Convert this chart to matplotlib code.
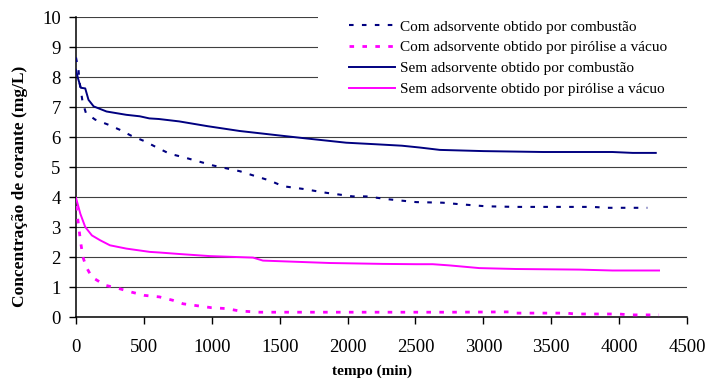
import matplotlib
matplotlib.use("Agg")
import matplotlib.pyplot as plt
from matplotlib.patches import Rectangle

plt.rcParams['font.family'] = ['Liberation Serif', 'DejaVu Serif']
plt.rcParams['lines.scale_dashes'] = False

# Tempo (min) e concentração (mg/L) de cada ensaio
t_com_comb = [0, 19, 27, 49, 73, 141, 238, 323, 408, 505, 600, 690, 789, 1010,
              1206, 1304, 1426, 1524, 1671, 1843, 2039, 2137, 2309, 2505, 2701,
              2824, 3020, 3240, 3534, 3804, 3914, 4208]
c_com_comb = [8.65, 8.21, 7.79, 7.16, 6.80, 6.58, 6.41, 6.24, 6.04, 5.86, 5.64,
              5.44, 5.33, 5.05, 4.86, 4.72, 4.55, 4.36, 4.27, 4.14, 4.02, 4.02,
              3.92, 3.83, 3.81, 3.76, 3.69, 3.67, 3.67, 3.67, 3.64, 3.64]

t_com_pir = [0, 19, 32, 51, 75, 117, 214, 323, 408, 505, 614, 711, 789, 998,
             1108, 1206, 1353, 2000, 2750, 3191, 3240, 3608, 3681, 4000, 4074,
             4294]
c_com_pir = [3.70, 3.06, 2.56, 2.00, 1.67, 1.33, 1.06, 0.94, 0.83, 0.72, 0.67,
             0.56, 0.44, 0.31, 0.28, 0.20, 0.16, 0.16, 0.16, 0.17, 0.13, 0.13,
             0.10, 0.10, 0.07, 0.07]

t_sem_comb = [0, 15, 36, 68, 92, 130, 225, 370, 470, 540, 610, 760, 970, 1206,
              1480, 1700, 1990, 2200, 2400, 2530, 2680, 3000, 3440, 3950, 4100,
              4270]
c_sem_comb = [8.24, 7.95, 7.64, 7.62, 7.24, 7.02, 6.85, 6.74, 6.69, 6.62, 6.60,
              6.52, 6.36, 6.20, 6.06, 5.95, 5.81, 5.76, 5.71, 5.65, 5.57, 5.53,
              5.50, 5.50, 5.47, 5.47]

t_sem_pir = [0, 32, 68, 117, 177, 250, 371, 544, 614, 760, 985, 1304, 1377,
             1623, 1868, 2260, 2505, 2627, 2750, 2971, 3240, 3706, 3951, 4294]
c_sem_pir = [3.97, 3.44, 3.00, 2.72, 2.56, 2.39, 2.28, 2.17, 2.15, 2.10, 2.03,
             1.98, 1.88, 1.84, 1.80, 1.77, 1.76, 1.76, 1.72, 1.63, 1.60, 1.58,
             1.55, 1.55]

labels = ["Com adsorvente obtido por combustão",
          "Com adsorvente obtido por pirólise a vácuo",
          "Sem adsorvente obtido por combustão",
          "Sem adsorvente obtido por pirólise a vácuo"]

x_ticks = list(range(0, 4501, 500))
y_ticks = list(range(0, 11))

navy = '#000080'
magenta = '#FF00FF'
dash = (0, (3.3, 6.0))

fig = plt.figure(figsize=(7.08, 3.80), dpi=100)
ax = fig.add_axes([76 / 708, 63 / 380, 611 / 708, 300 / 380])

ax.plot(t_com_comb, c_com_comb, color=navy, lw=1.5, ls=dash, label=labels[0], zorder=3)
ax.plot(t_com_pir, c_com_pir, color=magenta, lw=2.0, ls=dash, label=labels[1], zorder=3)
ax.plot(t_sem_comb, c_sem_comb, color=navy, lw=1.4, label=labels[2], zorder=3)
ax.plot(t_sem_pir, c_sem_pir, color=magenta, lw=1.4, label=labels[3], zorder=3)

ax.set_xlim(0, 4500)
ax.set_ylim(0, 10)
ax.set_xticks(x_ticks)
ax.set_yticks(y_ticks)
ax.tick_params(axis='both', direction='out', length=5, width=1, labelsize=13.5,
               colors='black')
ax.tick_params(axis='y', pad=6)
ax.tick_params(axis='x', pad=11)

ax.set_axisbelow(True)
ax.grid(axis='y', color='#404040', lw=0.8)
for s in ('top', 'right'):
    ax.spines[s].set_visible(False)
for s in ('left', 'bottom'):
    ax.spines[s].set_linewidth(1.1)
    ax.spines[s].set_color('black')

# white panel behind the legend
ax.add_patch(Rectangle((0.396, 0.707), 0.7, 0.35, transform=ax.transAxes,
                       facecolor='white', edgecolor='none', zorder=1,
                       clip_on=False))

ax.set_xlabel('tempo (min)', fontsize=11, fontweight='bold')
ax.set_ylabel('Concentração de corante (mg/L)', fontsize=12.5, fontweight='bold')
ax.xaxis.set_label_coords(0.485, -0.16)
ax.yaxis.set_label_coords(-0.079, 0.437)

leg = ax.legend(loc='upper left', bbox_to_anchor=(0.447, 0.99), frameon=False,
                fontsize=11, handlelength=3.0, handletextpad=0.35,
                labelspacing=0.46, borderpad=0, borderaxespad=0)
for t in leg.get_texts():
    t.set_color('black')

fig.savefig('out.png', dpi=100)
